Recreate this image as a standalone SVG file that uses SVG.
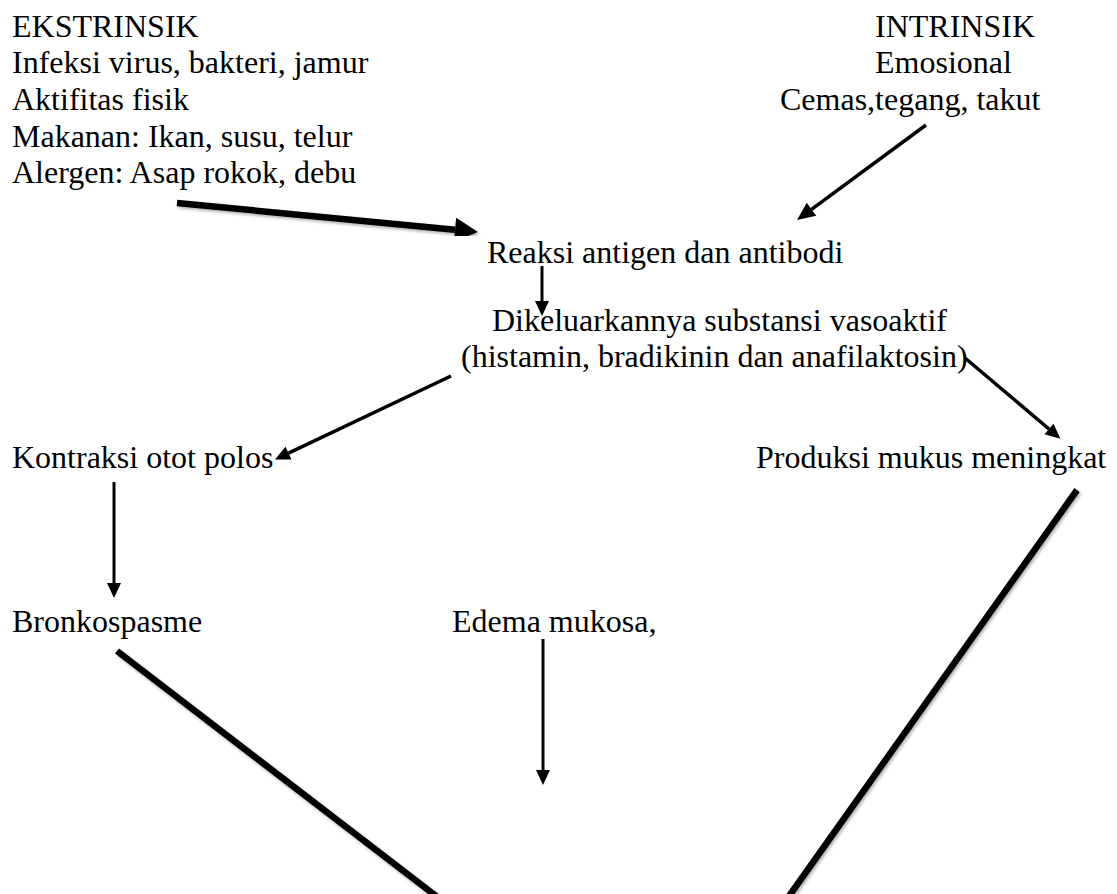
<svg xmlns="http://www.w3.org/2000/svg" width="1117" height="894" viewBox="0 0 1117 894">
<style>
text{font-family:"Liberation Serif","Times New Roman",serif;font-size:32px;fill:#000}
.thin{stroke:#000;stroke-width:3;fill:none}
.mid{stroke:#000;stroke-width:3.5;fill:none}
.thick{stroke:#000;stroke-width:6.5;fill:none;filter:url(#sh)}
</style>
<defs>
<filter id="sh" x="-20%" y="-20%" width="140%" height="140%">
<feDropShadow dx="1.5" dy="2" stdDeviation="1.5" flood-color="#000" flood-opacity="0.3"/>
</filter>
<marker id="ahS" markerUnits="userSpaceOnUse" markerWidth="16" markerHeight="16" refX="0" refY="8" orient="auto" overflow="visible">
<path d="M0,1 L15,8 L0,15 z" fill="#000"/>
</marker>
<marker id="ahM" markerUnits="userSpaceOnUse" markerWidth="20" markerHeight="18" refX="0" refY="9" orient="auto" overflow="visible">
<path d="M0,1 L18,9 L0,17 z" fill="#000"/>
</marker>
<marker id="ahL" markerUnits="userSpaceOnUse" markerWidth="26" markerHeight="26" refX="0" refY="13" orient="auto" overflow="visible">
<path d="M0,1 L23,13 L0,25 z" fill="#000"/>
</marker>
</defs>
<rect width="1117" height="894" fill="#fff"/>
<g id="connectors">
<line class="thick" x1="177" y1="203" x2="455" y2="229.8" marker-end="url(#ahL)"/>
<line class="mid" x1="926" y1="125" x2="811.5" y2="209.3" marker-end="url(#ahM)"/>
<line class="thin" x1="542" y1="266" x2="542" y2="301" marker-end="url(#ahS)"/>
<line class="mid" x1="451" y1="376" x2="288.5" y2="453.1" marker-end="url(#ahS)"/>
<line class="thick" x1="545" y1="382" x2="545" y2="587" marker-end="url(#ahL)"/>
<line class="mid" x1="965" y1="358" x2="1049" y2="429" marker-end="url(#ahS)"/>
<line class="thin" x1="114" y1="482" x2="114" y2="583" marker-end="url(#ahS)"/>
<line class="thin" x1="543" y1="639" x2="543" y2="770" marker-end="url(#ahS)"/>
<line class="thick" x1="117" y1="651" x2="440" y2="899"/>
<line class="thick" x1="1077" y1="490" x2="787" y2="899"/>
</g>
<g id="ekstrinsik">
<text x="12" y="37">EKSTRINSIK</text>
<text x="12" y="73">Infeksi virus, bakteri, jamur</text>
<text x="12" y="110">Aktifitas fisik</text>
<text x="12" y="147">Makanan: Ikan, susu, telur</text>
<text x="12" y="183">Alergen: Asap rokok, debu</text>
</g>
<g id="intrinsik">
<text x="875" y="37">INTRINSIK</text>
<text x="875" y="73">Emosional</text>
<text x="780" y="110">Cemas,tegang, takut</text>
</g>
<g id="reaksi">
<text x="487" y="263">Reaksi antigen dan antibodi</text>
</g>
<g id="substansi">
<text x="492" y="331">Dikeluarkannya substansi vasoaktif</text>
<text x="461" y="367">(histamin, bradikinin dan anafilaktosin)</text>
</g>
<g id="kontraksi">
<text x="12" y="468">Kontraksi otot polos</text>
</g>
<g id="produksi">
<text x="756" y="468">Produksi mukus meningkat</text>
</g>
<g id="bronkospasme">
<text x="12" y="632">Bronkospasme</text>
</g>
<g id="edema">
<text x="452" y="632">Edema mukosa,</text>
</g>
</svg>
